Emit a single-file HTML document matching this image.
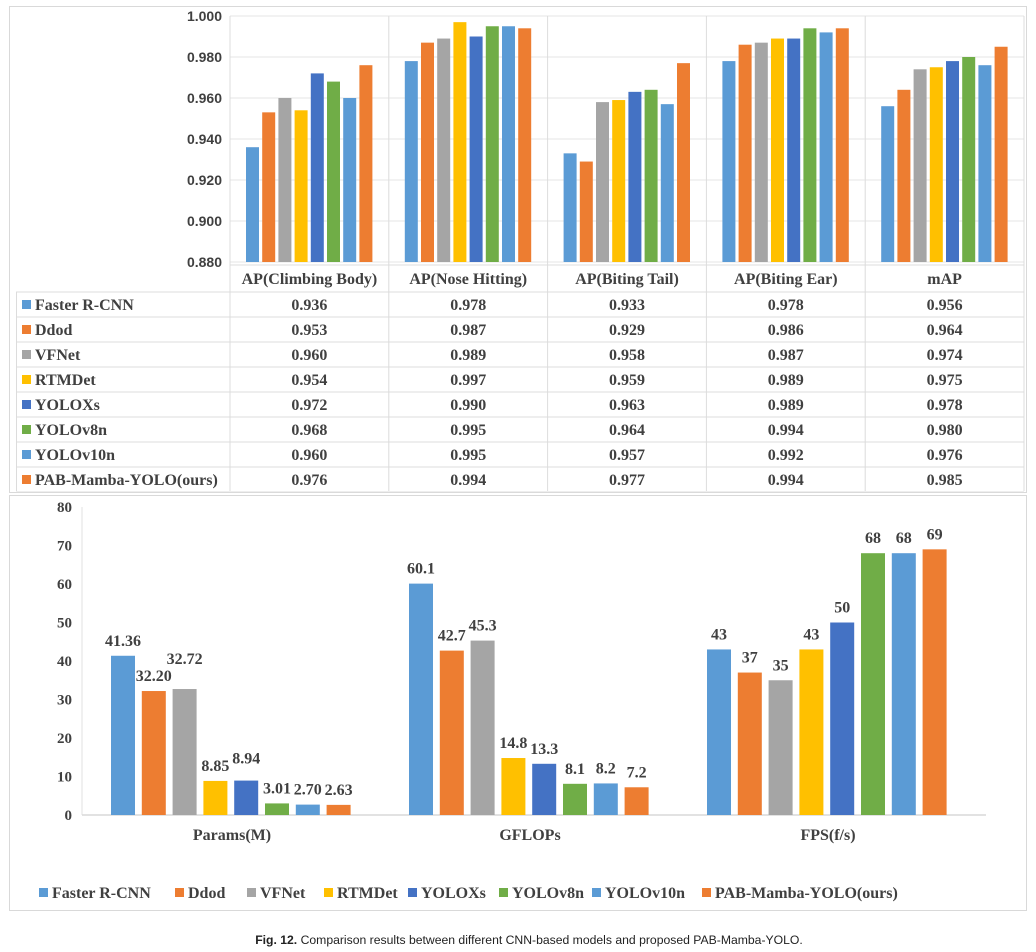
<!DOCTYPE html>
<html><head><meta charset="utf-8"><style>
body{margin:0;background:#fff;width:1036px;height:952px;overflow:hidden}
svg{display:block}
</style></head><body>
<svg id="c" width="1036" height="952" xmlns="http://www.w3.org/2000/svg"></svg>
<script>
const models=["Faster R-CNN","Ddod","VFNet","RTMDet","YOLOXs","YOLOv8n","YOLOv10n","PAB-Mamba-YOLO(ours)"];
const colors=["#5b9bd5","#ed7d31","#a5a5a5","#ffc000","#4472c4","#70ad47","#5b9bd5","#ed7d31"];
const apCats=["AP(Climbing Body)","AP(Nose Hitting)","AP(Biting Tail)","AP(Biting Ear)","mAP"];
const apFaster=[0.936,0.978,0.933,0.978,0.956];
const apDdod=[0.953,0.987,0.929,0.986,0.964];
const apVFNet=[0.960,0.989,0.958,0.987,0.974];
const apRTMDet=[0.954,0.997,0.959,0.989,0.975];
const apYOLOXs=[0.972,0.990,0.963,0.989,0.978];
const apYOLOv8n=[0.968,0.995,0.964,0.994,0.980];
const apYOLOv10n=[0.960,0.995,0.957,0.992,0.976];
const apOurs=[0.976,0.994,0.977,0.994,0.985];
const apTicks=[0.880,0.900,0.920,0.940,0.960,0.980,1.000];
const effCats=["Params(M)","GFLOPs","FPS(f/s)"];
const effFaster=[41.36,60.1,43];
const effDdod=[32.20,42.7,37];
const effVFNet=[32.72,45.3,35];
const effRTMDet=[8.85,14.8,43];
const effYOLOXs=[8.94,13.3,50];
const effYOLOv8n=[3.01,8.1,68];
const effYOLOv10n=[2.70,8.2,68];
const effOurs=[2.63,7.2,69];
const effLabels=[["41.36","60.1","43"],["32.20","42.7","37"],["32.72","45.3","35"],["8.85","14.8","43"],["8.94","13.3","50"],["3.01","8.1","68"],["2.70","8.2","68"],["2.63","7.2","69"]];
const effTicks=[0,10,20,30,40,50,60,70,80];

const apSeries=[apFaster,apDdod,apVFNet,apRTMDet,apYOLOXs,apYOLOv8n,apYOLOv10n,apOurs];
const effSeries=[effFaster,effDdod,effVFNet,effRTMDet,effYOLOXs,effYOLOv8n,effYOLOv10n,effOurs];
const svg=document.getElementById('c');
const NS="http://www.w3.org/2000/svg";
function el(t,a,p){const e=document.createElementNS(NS,t);for(const k in a)e.setAttribute(k,a[k]);(p||svg).appendChild(e);return e;}
function txt(s,a,p){const e=el('text',a,p);e.textContent=s;return e;}
const serif='"Liberation Serif", serif', sans='"Liberation Sans", sans-serif';

// ---- top panel ----
let g=el('g',{});


el('rect',{x:9.5,y:6.5,width:1017,height:486,fill:'none',stroke:'#d9d9d9'},g);
const colX0=230,colW=158.8;
const yT=v=>262-(v-0.88)/0.12*246;
apTicks.forEach(t=>{
  const y=yT(t);
  el('line',{x1:colX0,x2:colX0+5*colW,y1:y,y2:y,stroke:'#e6e6e6'},g);
  const l=txt(t.toFixed(3),{x:222,y:y+5,'text-anchor':'end','font-family':sans,'font-weight':'bold','font-size':14,fill:'#404040'},g);
  
  
});
for(let i=0;i<=5;i++) el('line',{x1:colX0+i*colW,x2:colX0+i*colW,y1:16,y2:491,stroke:'#dcdcdc'},g);
apSeries.forEach((s,si)=>{
  s.forEach((v,ci)=>{
    const x=colX0+ci*colW+16+si*16.2, y=yT(v);
    const r=el('rect',{x:x,y:y,width:13,height:262-y,fill:colors[si]},g);
    
    
  });
});
// table
const rowTop=265,hdrH=27,rowH=25;
el('line',{x1:colX0,x2:colX0+5*colW,y1:rowTop,y2:rowTop,stroke:'#dcdcdc'},g);
el('line',{x1:16,x2:colX0+5*colW,y1:rowTop+hdrH,y2:rowTop+hdrH,stroke:'#dcdcdc'},g);
el('line',{x1:16.5,x2:16.5,y1:rowTop+hdrH,y2:491,stroke:'#dcdcdc'},g);
apCats.forEach((c,ci)=>{
  const h=txt(c,{x:colX0+ci*colW+colW/2,y:rowTop+19,'text-anchor':'middle','font-family':serif,'font-weight':'bold','font-size':16,fill:'#404040'},g);
  
  
});
models.forEach((m,mi)=>{
  const y0=rowTop+hdrH+mi*rowH;
  el('line',{x1:16,x2:colX0+5*colW,y1:y0+rowH,y2:y0+rowH,stroke:'#dcdcdc'},g);
  el('rect',{x:22,y:y0+8,width:9,height:9,fill:colors[mi]},g);
  const n=txt(m,{x:35,y:y0+18,'font-family':serif,'font-weight':'bold','font-size':16,fill:'#404040'},g);
  
  
  apSeries[mi].forEach((v,ci)=>{
    const t=txt(v.toFixed(3),{x:colX0+ci*colW+colW/2,y:y0+18,'text-anchor':'middle','font-family':serif,'font-weight':'bold','font-size':16,fill:'#404040'},g);
    
    
  });
});

// ---- bottom panel ----
let b=el('g',{});


el('rect',{x:9.5,y:495.5,width:1017,height:415,fill:'none',stroke:'#d9d9d9'},b);
const yE=v=>815-v/80*308;
const ax0=82,gW=298;
el('line',{x1:ax0,x2:ax0,y1:507,y2:815,stroke:'#e0e0e0'},b);
el('line',{x1:ax0,x2:ax0+3*gW+10,y1:815,y2:815,stroke:'#d9d9d9','stroke-width':1.5},b);
effTicks.forEach(t=>{
  const l=txt(String(t),{x:72,y:yE(t)+5,'text-anchor':'end','font-family':serif,'font-weight':'bold','font-size':15,fill:'#404040'},b);
  
  
});
effSeries.forEach((s,si)=>{
  s.forEach((v,ci)=>{
    const x=ax0+ci*gW+29+si*30.8, y=yE(v);
    const r=el('rect',{x:x,y:y,width:24,height:815-y,fill:colors[si]},b);
    
    
    const lab=txt(effLabels[si][ci],{x:x+12,y:y-(si===2&&ci===0?25:si===4&&ci===0?17:10),'text-anchor':'middle','font-family':serif,'font-weight':'bold','font-size':16,fill:'#404040'},b);
    
    
  });
});
effCats.forEach((c,ci)=>{
  const l=txt(c,{x:ax0+ci*gW+150,y:840,'text-anchor':'middle','font-family':serif,'font-weight':'bold','font-size':16,fill:'#404040'},b);
  
  
});
const legX=[39,175,247,324,408,499,592,702];
models.forEach((m,mi)=>{
  const lg=el('g',{},b);
  
  
  el('rect',{x:legX[mi],y:888,width:9,height:9,fill:colors[mi]},lg);
  txt(m,{x:legX[mi]+13,y:898,'font-family':serif,'font-weight':'bold','font-size':16,fill:'#404040'},lg);
});

// caption
const cap=el('text',{x:529,y:944,'text-anchor':'middle','font-family':sans,'font-size':12.2,fill:'#222'});


const t1=el('tspan',{'font-weight':'bold'},cap);t1.textContent='Fig. 12.';
const t2=el('tspan',{},cap);t2.textContent=' Comparison results between different CNN-based models and proposed PAB-Mamba-YOLO.';
</script>
</body></html>
